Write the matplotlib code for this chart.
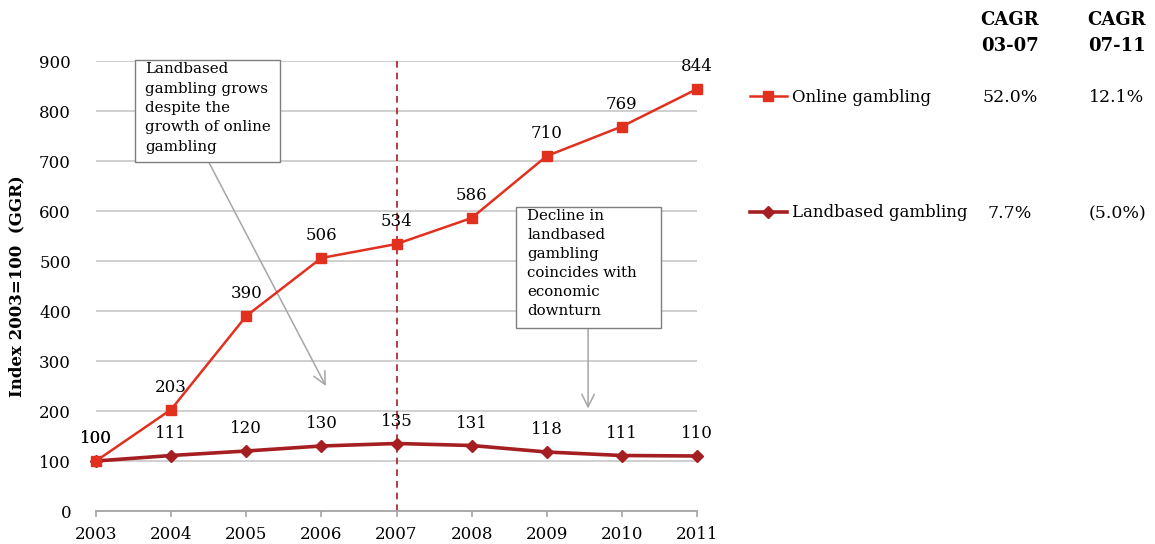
import matplotlib
matplotlib.use("Agg")
import matplotlib.pyplot as plt
from matplotlib.patches import Rectangle

plt.rcParams["font.family"] = ["DejaVu Serif"]

years = [2003, 2004, 2005, 2006, 2007, 2008, 2009, 2010, 2011]
online = [100, 203, 390, 506, 534, 586, 710, 769, 844]
landbased = [100, 111, 120, 130, 135, 131, 118, 111, 110]
series_names = ["Online gambling", "Landbased gambling"]
cagr_headers = ["CAGR\n03-07", "CAGR\n07-11"]
cagr_online = ["52.0%", "12.1%"]
cagr_landbased = ["7.7%", "(5.0%)"]
yticks = [0, 100, 200, 300, 400, 500, 600, 700, 800, 900]

RED = "#E2301F"
DARK_RED = "#A51E22"
GRID = "#CFCFCF"
AXIS = "#A6A6A6"
FS = 12

fig = plt.figure(figsize=(11.55, 5.44), dpi=100)
ax = fig.add_axes([96 / 1155, 1 - 511 / 544, (697 - 96) / 1155, (511 - 61) / 544])

ax.set_xlim(years[0], years[-1])
ax.set_ylim(0, 900)
ax.set_yticks(yticks)
ax.set_xticks(years)
ax.grid(axis="y", color=GRID, linewidth=1.4)
ax.set_axisbelow(True)
for s in ["left", "right", "top"]:
    ax.spines[s].set_visible(False)
ax.spines["bottom"].set_color(AXIS)
ax.spines["bottom"].set_linewidth(1.3)
ax.tick_params(axis="y", length=0, pad=18, labelsize=FS)
ax.tick_params(axis="x", length=4, width=1.2, color=AXIS, direction="out", pad=6.5, labelsize=FS)
ax.set_ylabel("Index 2003=100  (GGR)", fontsize=FS, fontweight="bold", labelpad=10)

# vertical marker for 2007
ax.axvline(2007, color=DARK_RED, linestyle=(0, (4, 3)), linewidth=1.2, ymax=1.005, clip_on=False)

l1, = ax.plot(years, online, color=RED, linewidth=1.8, marker="s", markersize=7.5,
              markeredgecolor=RED, label=series_names[0], clip_on=False, zorder=4)
l2, = ax.plot(years, landbased, color=DARK_RED, linewidth=2.6, marker="D", markersize=6,
              label=series_names[1], clip_on=False, zorder=3)

for x, y in zip(years, online):
    ax.annotate(f"{y}", (x, y), xytext=(0, 16), textcoords="offset points",
                ha="center", va="center", fontsize=FS)
for x, y in zip(years, landbased):
    ax.annotate(f"{y}", (x, y), xytext=(0, 16), textcoords="offset points",
                ha="center", va="center", fontsize=FS, zorder=5)

# annotation boxes with arrows
arrow = dict(arrowstyle="->,head_length=0.9,head_width=0.45", color="#A6A6A6", linewidth=1.1,
             shrinkA=0, shrinkB=0)
ax.annotate("", xy=(2006.06, 250), xytext=(2004.5, 698), arrowprops=arrow, zorder=2)
ax.add_patch(Rectangle((2003.52, 698), 1.93, 204, facecolor="white", edgecolor="#7F7F7F",
                       linewidth=1, clip_on=False, zorder=6))
ax.text(2003.65, 898, "Landbased\ngambling grows\ndespite the\ngrowth of online\ngambling",
        ha="left", va="top", fontsize=10.8, linespacing=1.5, zorder=7)

ax.annotate("", xy=(2009.55, 205), xytext=(2009.55, 366), arrowprops=arrow, zorder=2)
ax.add_patch(Rectangle((2008.59, 366), 1.93, 242, facecolor="white", edgecolor="#7F7F7F",
                       linewidth=1, clip_on=False, zorder=6))
ax.text(2008.74, 603, "Decline in\nlandbased\ngambling\ncoincides with\neconomic\ndownturn",
        ha="left", va="top", fontsize=10.8, linespacing=1.45, zorder=7)

# legend with growth-rate table
fig.legend(handles=[l1, l2], loc="upper left", bbox_to_anchor=(750 / 1155, 1 - 89 / 544),
           frameon=False, fontsize=FS, handlelength=2.2, handletextpad=0.3,
           labelspacing=5.9, borderaxespad=0, borderpad=0)
col_x = [1010 / 1155, 1117 / 1155]
for cx, head, v_on, v_land in zip(col_x, cagr_headers, cagr_online, cagr_landbased):
    fig.text(cx, 1 - 33 / 544, head, ha="center", va="center", fontsize=13,
             fontweight="bold", linespacing=1.55)
    fig.text(cx, 1 - 98 / 544, v_on, ha="center", va="center", fontsize=12.5)
    fig.text(cx, 1 - 214 / 544, v_land, ha="center", va="center", fontsize=12.5)

fig.savefig("out.png", dpi=100)
